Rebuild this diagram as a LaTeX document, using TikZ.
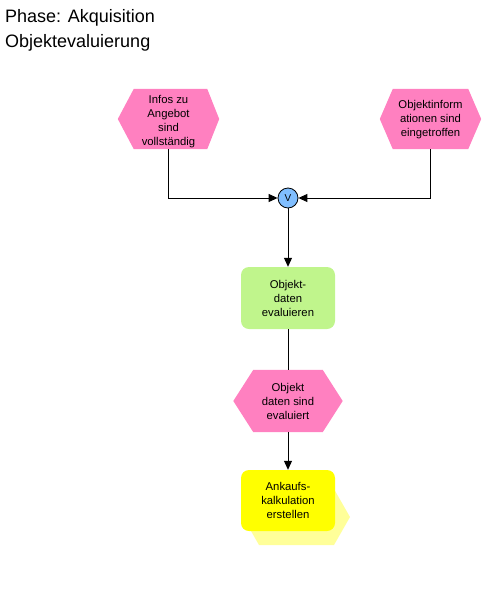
\documentclass[tikz,border=0pt]{standalone}
\usepackage{fontspec}
\setmainfont{Liberation Sans}
\usetikzlibrary{arrows.meta,backgrounds}
\definecolor{evpink}{RGB}{255,128,192}
\definecolor{fngreen}{RGB}{192,245,140}
\definecolor{fnyellow}{RGB}{255,255,0}
\definecolor{shadowyellow}{RGB}{255,255,153}
\definecolor{opblue}{RGB}{128,190,255}
\tikzset{
  evt/.style={minimum width=#1, minimum height=60pt, inner sep=0pt, align=center,
    font=\fontsize{11.3}{14}\selectfont},
  fnbox/.style={rounded corners=8pt, minimum width=94pt, minimum height=62pt, inner sep=0pt,
    align=center, font=\fontsize{11.3}{14}\selectfont, fill=#1},
  opnode/.style={circle, draw=black, fill=opblue, minimum size=20pt, inner sep=0pt,
    font=\fontsize{10}{12}\selectfont, line width=0.8pt},
  conn/.style={line width=1pt, draw=black},
  arr/.style={conn, -{Triangle[length=9pt,width=8pt]}},
  ttl/.style={anchor=base west, inner sep=0pt, font=\fontsize{18}{20}\selectfont}
}
% #1 node, #2 left tip depth, #3 right tip depth, #4 upward shift of the shape
\newcommand\hexfill[4]{%
  \fill[evpink] ([yshift=#4]#1.west) -- ([xshift=#2,yshift=#4]#1.north west)
    -- ([xshift=-#3,yshift=#4]#1.north east) -- ([yshift=#4]#1.east)
    -- ([xshift=-#3,yshift=#4]#1.south east) -- ([xshift=#2,yshift=#4]#1.south west) -- cycle;}
\begin{document}
\begin{tikzpicture}[x=1pt,y=-1pt]
\path[use as bounding box] (0,0) rectangle (486,600);
% titles
\node[ttl] (t1) at (5,22) {Phase: Akquisition};
\node[ttl] (t2) at (5,47) {Objektevaluierung};
% shadow of second function
\fill[shadowyellow] (259,489) -- (334,489) -- (350,517) -- (334,545) -- (259,545) -- (243,517) -- cycle;
% nodes
\node[evt=101pt] (e1) at (168.5,122) {Infos zu\\Angebot\\sind\\vollständig};
\node[evt=101pt] (e2) at (430.5,120) {Objektinform\\ationen sind\\eingetroffen};
\node[opnode] (or) at (288,198) {V};
\node[fnbox=fngreen] (f1) at (288,298) {Objekt-\\daten\\evaluieren};
\node[evt=109pt, minimum height=62pt] (e3) at (288,401) {Objekt\\daten sind\\evaluiert};
\node[fnbox=fnyellow, minimum height=61pt] (f2) at (288,500.5) {Ankaufs-\\kalkulation\\erstellen};
\begin{scope}[on background layer]
  \hexfill{e1}{16pt}{12pt}{3pt}
  \hexfill{e2}{13pt}{13pt}{1pt}
  \hexfill{e3}{20pt}{20pt}{0pt}
\end{scope}
% connectors
\draw[arr] ([yshift=3pt]e1.south) |- (or.west);
\draw[arr] ([yshift=1pt]e2.south) |- (or.east);
\draw[arr] (or.south) -- (f1.north);
\draw[conn] (f1.south) -- (e3.north);
\draw[arr] (e3.south) -- (f2.north);
\end{tikzpicture}
\end{document}
